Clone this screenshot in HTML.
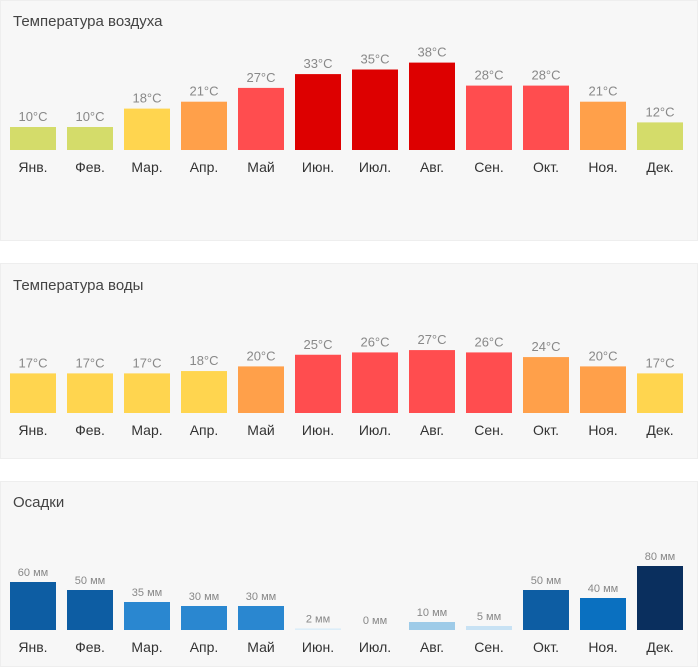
<!DOCTYPE html>
<html><head><meta charset="utf-8"><style>
body{margin:0;width:700px;height:667px;background:#fff;font-family:"Liberation Sans",sans-serif;position:relative;overflow:hidden}
.panel{position:absolute;left:0;width:698px;background:#f7f7f7;border:1px solid #eee;box-sizing:border-box}
.title{position:absolute;left:13px;font-size:15px;color:#444}
svg{position:absolute;left:0;top:0}
</style></head><body>
<div class="panel" style="top:0;height:241px"></div>
<div class="panel" style="top:263px;height:196px"></div>
<div class="panel" style="top:481px;height:186px"></div>
<div class="title" style="top:13px">Температура воздуха</div>
<div class="title" style="top:277px">Температура воды</div>
<div class="title" style="top:494px">Осадки</div>
<svg id="chart" width="700" height="667"></svg>
<script>
const months=["Янв.","Фев.","Мар.","Апр.","Май","Июн.","Июл.","Авг.","Сен.","Окт.","Ноя.","Дек."];
const airTemp=[10,10,18,21,27,33,35,38,28,28,21,12];
const waterTemp=[17,17,17,18,20,25,26,27,26,24,20,17];
const precip=[60,50,35,30,30,2,0,10,5,50,40,80];
const NS="http://www.w3.org/2000/svg";
const svg=document.getElementById('chart');
function xc(i){return 33+i*57;}
function tempColor(v){if(v<=14)return"#d4dc6a";if(v<=19)return"#ffd54f";if(v<=24)return"#ffa04a";if(v<=30)return"#ff4d4f";return"#dd0000";}
function rainColor(v){if(v<=2)return"#dcedf8";if(v<=5)return"#c8e2f4";if(v<=10)return"#9ecbe8";if(v<=35)return"#2a87d0";if(v<=40)return"#0a70c0";if(v<=60)return"#0d5da3";return"#0a2f5e";}
function draw(vals,base,scale,unit,colorFn,name,lblSize){
  vals.forEach((v,i)=>{
    const h=v*scale, cx=xc(i);
    const r=document.createElementNS(NS,'rect');
    r.setAttribute('x',cx-23);r.setAttribute('y',base-h);r.setAttribute('width',46);r.setAttribute('height',h);
    r.setAttribute('fill',colorFn(v));
    
    
    svg.appendChild(r);
    const t=document.createElementNS(NS,'text');
    t.setAttribute('x',cx);t.setAttribute('y',base-h-6);t.setAttribute('text-anchor','middle');
    t.setAttribute('font-size',lblSize);t.setAttribute('fill','#888');
    t.textContent=v+unit;
    
    
    svg.appendChild(t);
    const m=document.createElementNS(NS,'text');
    m.setAttribute('x',cx);m.setAttribute('y',base+22);m.setAttribute('text-anchor','middle');
    m.setAttribute('font-size',14);m.setAttribute('fill','#333');
    m.textContent=months[i];
    
    
    svg.appendChild(m);
  });
}
draw(airTemp,150,2.3,"°C",tempColor,'air-temp',13);
draw(waterTemp,413,2.33,"°C",tempColor,'water-temp',13);
draw(precip,630,0.8," мм",rainColor,'precip',11);
</script>
</body></html>
